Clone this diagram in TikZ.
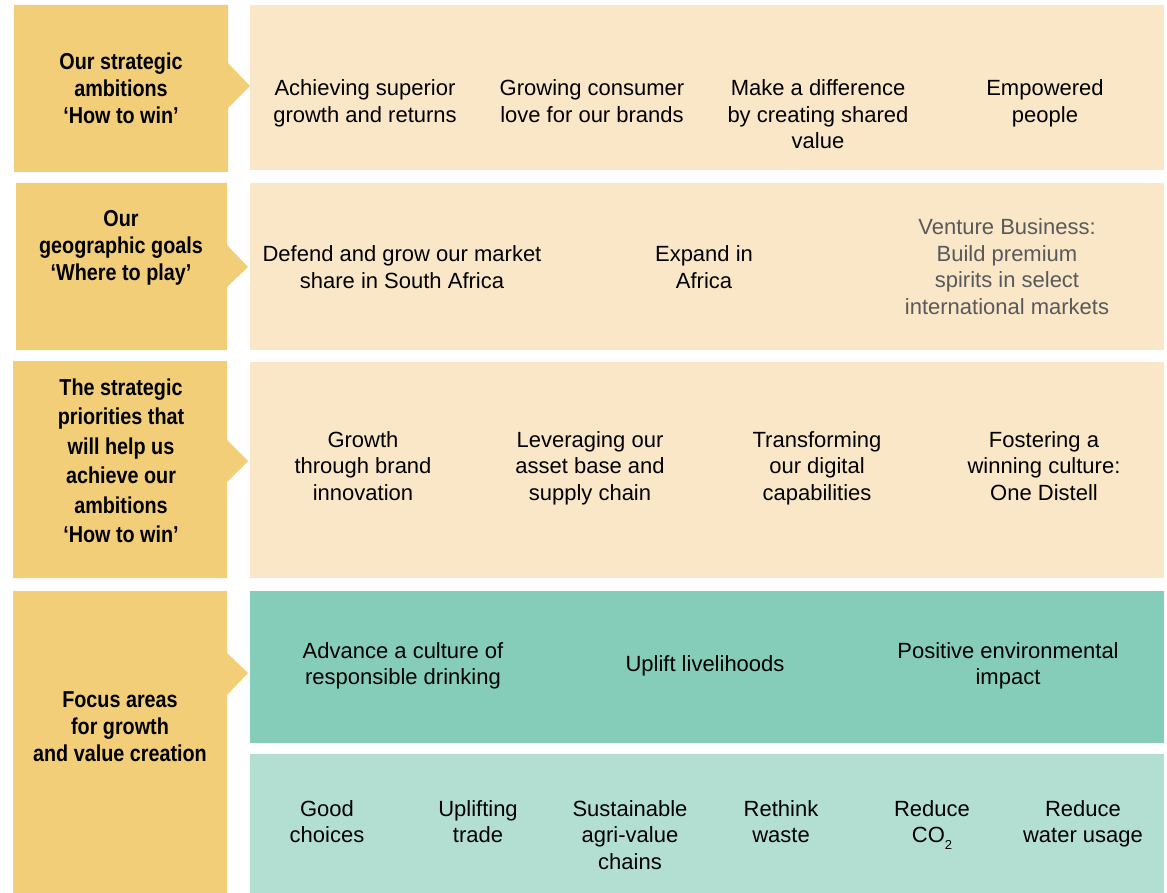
\documentclass[tikz,border=0pt]{standalone}
\usepackage{fontspec}
\setmainfont{Liberation Sans}
\newfontfamily\headfont{Liberation Sans}[FakeStretch=0.86]
\definecolor{gold}{RGB}{242,206,120}
\definecolor{cream}{RGB}{250,231,199}
\definecolor{teal}{RGB}{133,205,185}
\definecolor{paleteal}{RGB}{179,223,211}
\definecolor{ventgray}{RGB}{88,89,91}
% centred lines whose baseline is that of the first line
\newcommand{\linestack}[1]{\begin{tabular}[t]{@{}c@{}}#1\end{tabular}}
\tikzset{
  item/.style={anchor=base, inner sep=0pt, text=black,
    font=\fontsize{22}{26.5}\selectfont},
  muted/.style={text=ventgray},
  head/.style={anchor=base, inner sep=0pt, text=black,
    font=\headfont\bfseries\fontsize{23}{27}\selectfont},
}
\begin{document}
\begin{tikzpicture}[x=1pt,y=-1pt]
\useasboundingbox (0,0) rectangle (1167,893);

% content panels
\fill[cream] (250,5) rectangle (1164,170);
\fill[cream] (250,183) rectangle (1164,350);
\fill[cream] (250,362) rectangle (1164,578);
\fill[teal] (250,591) rectangle (1164,743);
\fill[paleteal] (250,754) rectangle (1164,893);

% label panels with pointer notches
\fill[gold] (14,5) -- (228,5) -- (228,63) -- (250,86) -- (228,108) -- (228,172) -- (14,172) -- cycle;
\fill[gold] (16,183) -- (227,183) -- (227,245) -- (248,267) -- (227,287) -- (227,350) -- (16,350) -- cycle;
\fill[gold] (13,361) -- (227,361) -- (227,440) -- (248,461) -- (227,482) -- (227,578) -- (13,578) -- cycle;
\fill[gold] (13,591) -- (227,591) -- (227,653) -- (248,673) -- (227,695) -- (227,893) -- (13,893) -- cycle;

% row labels
\node[head] (h1) at (121,70) {\linestack{Our strategic\\ambitions\\‘How to win’}};
\node[head] (h2) at (121,227) {\linestack{Our\\geographic goals\\‘Where to play’}};
\node[head, font=\headfont\bfseries\fontsize{23}{29.5}\selectfont] (h3) at (121,395)
  {\linestack{The strategic\\priorities that\\will help us\\achieve our\\ambitions\\‘How to win’}};
\node[head] (h4) at (120,707) {\linestack{Focus areas\\for growth\\and value creation}};

% strategic ambitions
\node[item] (a1) at (365,96) {\linestack{Achieving superior\\growth and returns}};
\node[item] (a2) at (592,96) {\linestack{Growing consumer\\love for our brands}};
\node[item] (a3) at (818,96) {\linestack{Make a difference\\by creating shared\\value}};
\node[item] (a4) at (1045,96) {\linestack{Empowered\\people}};

% geographic goals
\node[item] (g1) at (402,262) {\linestack{Defend and grow our market\\share in South Africa}};
\node[item] (g2) at (704,262) {\linestack{Expand in\\Africa}};
\node[item, muted] (g3) at (1007,235) {\linestack{Venture Business:\\Build premium\\spirits in select\\international markets}};

% strategic priorities
\node[item] (p1) at (363,447) {\linestack{Growth\\through brand\\innovation}};
\node[item] (p2) at (590,447) {\linestack{Leveraging our\\asset base and\\supply chain}};
\node[item] (p3) at (817,447) {\linestack{Transforming\\our digital\\capabilities}};
\node[item] (p4) at (1044,447) {\linestack{Fostering a\\winning culture:\\One Distell}};

% focus areas
\node[item] (f1) at (403,658) {\linestack{Advance a culture of\\responsible drinking}};
\node[item] (f2) at (705,671) {Uplift livelihoods};
\node[item] (f3) at (1008,658) {\linestack{Positive environmental\\impact}};

% focus detail
\node[item] (d1) at (327,816) {\linestack{Good\\choices}};
\node[item] (d2) at (478,816) {\linestack{Uplifting\\trade}};
\node[item] (d3) at (630,816) {\linestack{Sustainable\\agri-value\\chains}};
\node[item] (d4) at (781,816) {\linestack{Rethink\\waste}};
\node[item] (d5) at (932,816) {\linestack{Reduce\\CO\raisebox{-0.6ex}{\fontsize{13}{13}\selectfont 2}}};
\node[item] (d6) at (1083,816) {\linestack{Reduce\\water usage}};
\end{tikzpicture}
\end{document}
